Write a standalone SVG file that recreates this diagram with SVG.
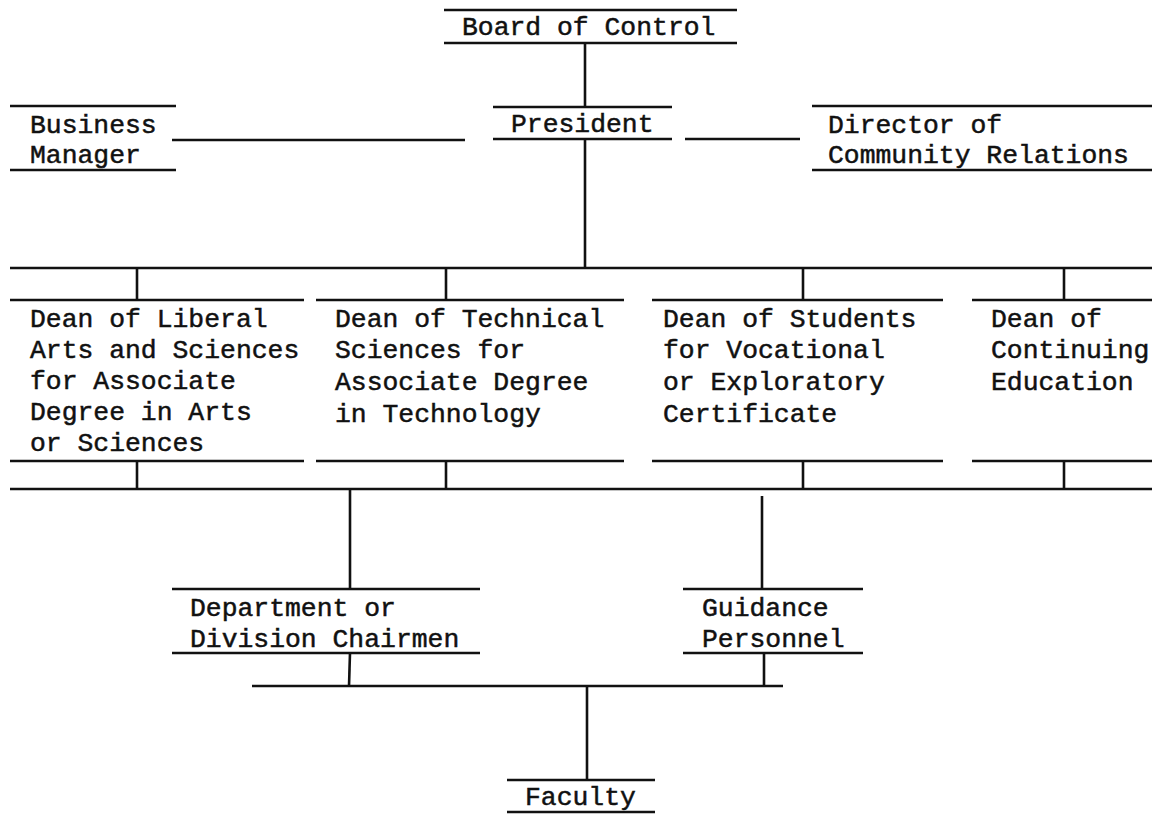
<svg xmlns="http://www.w3.org/2000/svg" width="1158" height="814" viewBox="0 0 1158 814">
<style>
  .bg { fill: #ffffff; }
  line { stroke: #111; stroke-width: 2.6; stroke-linecap: butt; }
  text { font-family: "Liberation Mono", "Courier New", monospace; font-size: 26.4px; fill: #111; stroke: #111; stroke-width: 0.5; }
</style>
<rect class="bg" x="0" y="0" width="1158" height="814"/>

<g id="board">
  <line x1="444" y1="10" x2="737" y2="10"/>
  <text x="462" y="35">Board of Control</text>
  <line x1="444" y1="43" x2="737" y2="43"/>
</g>

<g id="president">
  <line x1="493" y1="107" x2="672" y2="107"/>
  <text x="511" y="132">President</text>
  <line x1="493" y1="139" x2="672" y2="139"/>
</g>

<g id="business-manager">
  <line x1="10" y1="106" x2="176" y2="106"/>
  <text x="30" y="133">Business</text>
  <text x="30" y="163">Manager</text>
  <line x1="10" y1="170" x2="176" y2="170"/>
</g>

<g id="director-community-relations">
  <line x1="812" y1="106" x2="1152" y2="106"/>
  <text x="828" y="133">Director of</text>
  <text x="828" y="163">Community Relations</text>
  <line x1="812" y1="170" x2="1152" y2="170"/>
</g>

<g id="dean-liberal-arts">
  <line x1="10" y1="300" x2="304" y2="300"/>
  <text x="30" y="327">Dean of Liberal</text>
  <text x="30" y="358">Arts and Sciences</text>
  <text x="30" y="389">for Associate</text>
  <text x="30" y="420">Degree in Arts</text>
  <text x="30" y="451">or Sciences</text>
  <line x1="10" y1="461" x2="304" y2="461"/>
</g>

<g id="dean-technical">
  <line x1="316" y1="300" x2="624" y2="300"/>
  <text x="335" y="327">Dean of Technical</text>
  <text x="335" y="358">Sciences for</text>
  <text x="335" y="390">Associate Degree</text>
  <text x="335" y="422">in Technology</text>
  <line x1="316" y1="461" x2="624" y2="461"/>
</g>

<g id="dean-students">
  <line x1="652" y1="300" x2="943" y2="300"/>
  <text x="663" y="327">Dean of Students</text>
  <text x="663" y="358">for Vocational</text>
  <text x="663" y="390">or Exploratory</text>
  <text x="663" y="422">Certificate</text>
  <line x1="652" y1="461" x2="943" y2="461"/>
</g>

<g id="dean-continuing">
  <line x1="972" y1="300" x2="1152" y2="300"/>
  <text x="991" y="327">Dean of</text>
  <text x="991" y="358">Continuing</text>
  <text x="991" y="390">Education</text>
  <line x1="972" y1="461" x2="1152" y2="461"/>
</g>

<g id="department-chairmen">
  <line x1="172" y1="589" x2="480" y2="589"/>
  <text x="190" y="616">Department or</text>
  <text x="190" y="647">Division Chairmen</text>
  <line x1="172" y1="653" x2="480" y2="653"/>
</g>

<g id="guidance-personnel">
  <line x1="683" y1="589" x2="863" y2="589"/>
  <text x="702" y="616">Guidance</text>
  <text x="702" y="647">Personnel</text>
  <line x1="683" y1="653" x2="863" y2="653"/>
</g>

<g id="faculty">
  <line x1="507" y1="780" x2="655" y2="780"/>
  <text x="525" y="805">Faculty</text>
  <line x1="507" y1="812" x2="655" y2="812"/>
</g>

<g id="connectors">
  <line x1="585" y1="43" x2="585" y2="107"/>
  <line x1="172" y1="140" x2="465" y2="140"/>
  <line x1="685" y1="139" x2="800" y2="139"/>
  <line x1="585" y1="139" x2="585" y2="268"/>
  <line x1="10" y1="268" x2="1152" y2="268"/>
  <line x1="137" y1="268" x2="137" y2="300"/>
  <line x1="446" y1="268" x2="446" y2="300"/>
  <line x1="803" y1="268" x2="803" y2="300"/>
  <line x1="1064" y1="268" x2="1064" y2="300"/>
  <line x1="137" y1="461" x2="137" y2="489"/>
  <line x1="446" y1="461" x2="446" y2="489"/>
  <line x1="803" y1="461" x2="803" y2="489"/>
  <line x1="1064" y1="461" x2="1064" y2="489"/>
  <line x1="10" y1="489" x2="1152" y2="489"/>
  <line x1="350" y1="489" x2="350" y2="589"/>
  <line x1="762" y1="496" x2="762" y2="589"/>
  <line x1="350" y1="653" x2="349" y2="686"/>
  <line x1="764" y1="653" x2="764" y2="686"/>
  <line x1="252" y1="686" x2="783" y2="686"/>
  <line x1="587" y1="686" x2="587" y2="780"/>
</g>
</svg>
